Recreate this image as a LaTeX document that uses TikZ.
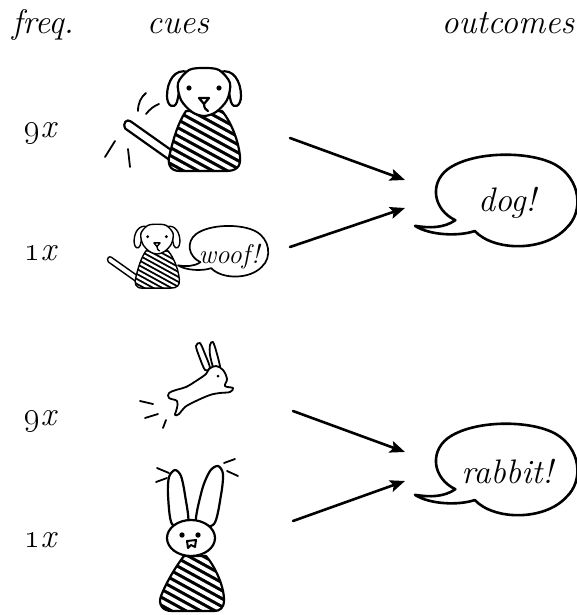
\RequirePackage{fix-cm}
\documentclass[tikz,border=0pt]{standalone}
\usetikzlibrary{arrows.meta}

\begin{document}
\begin{tikzpicture}[x=1pt, y=-1pt, line width=2.2pt, line cap=round, line join=round,
    every node/.style={font=\fontsize{34}{40}\selectfont\itshape, inner sep=0pt},
    title/.style={anchor=base},
    count/.style={anchor=base east},
    cue arrow/.style={line width=2.6pt, -{Stealth[length=15pt, width=12pt, inset=3pt]}},
    stripe/.style={white, line width=1.3\pgflinewidth},
    dog/.pic={
        % tail
        \draw[fill=white] (-25.4,60.3) -- (-73.4,26.3) .. controls (-77,23.5) and (-82,28) .. (-78.6,33.7) -- (-30.6,67.7) -- cycle;
        % striped body
        \path[save path=\dogbody] (-18,16) -- (18,16) .. controls (28,28) and (35,48) .. (36,62)
            .. controls (37,72) and (32,76) .. (22,76) -- (-24,76) .. controls (-35,76) and (-37,68) .. (-34,58)
            .. controls (-30,42) and (-26,28) .. (-18,16) -- cycle;
        \begin{scope}
            \path[use path=\dogbody, clip];
            \fill (-40,10) rectangle (40,80);
            \foreach \k in {-28,-20,...,68}
                \draw[stripe] (-42,\k) -- ++(84,46);
        \end{scope}
        \draw[use path=\dogbody];
        % ears and head
        \foreach \s in {1,-1}
            \draw[fill=white, xscale=\s] (16,-23) .. controls (29,-27) and (37,-14) .. (37,1)
                .. controls (37,11) and (30,15) .. (27,7) .. controls (25,0) and (25,-8) .. (22,-13) -- cycle;
        \draw[fill=white] plot[smooth cycle] coordinates {(-26,-12) (-15,-25) (0,-27) (15,-25) (26,-12)
            (23,5) (12,17) (0,21) (-12,17) (-23,5)};
        \foreach \s in {1,-1}
            \fill (15*\s,-7) circle[radius=2.6];
        \draw[fill=white] (-5,3) -- (5,3) -- (0,9) -- cycle;
        \draw (0,9) .. controls (0,13) and (2,15) .. (4,16);
    },
    bubble/.pic={
        \draw (-0.69,0.43) .. controls (-0.85,0.6) and (-1.05,0.6) .. (-1.25,0.55)
            .. controls (-1.05,0.75) and (-0.65,0.78) .. (-0.42,0.66)
            .. controls (-0.15,1.1) and (0.55,1.1) .. (0.85,0.6)
            .. controls (1.1,0.25) and (1.05,-0.45) .. (0.7,-0.75)
            .. controls (0.35,-1.05) and (-0.45,-1.05) .. (-0.8,-0.65)
            .. controls (-1.05,-0.35) and (-1.0,0.2) .. (-0.69,0.43) -- cycle;
    }]
    \useasboundingbox (0,0) rectangle (577,615);

    % column heads and frequencies
    \node[title] (freq) at (43,34) {freq.};
    \node[title] (cues) at (178,34) {cues};
    \node[title] (outcomes) at (508,34) {outcomes};
    \node[count] (n1) at (57,137) {\oldstylenums{9}x};
    \node[count] (n2) at (57,260) {\oldstylenums{1}x};
    \node[count] (n3) at (57,425) {\oldstylenums{9}x};
    \node[count] (n4) at (57,547) {\oldstylenums{1}x};

    % dogs
    \pic at (204,95) {dog};
    \draw[line width=1.8pt] (138,111) .. controls (138,103) and (141,97) .. (146,93)
        (146,114) .. controls (150,109) and (154,106) .. (159,104)
        (105,157) -- (115,141) (128,149) -- (130,167);
    \pic[scale=0.62, line width=1.4pt] at (157,241) {dog};
    \node[font=\fontsize{27}{32}\selectfont\itshape] (woof) at (229,257) {woof!};
    \pic[xscale=40, yscale=26, line width=1.7pt] at (228,251) {bubble};

    % jumping rabbit
    \begin{scope}[line width=1.8pt]
        \draw[fill=white] plot[smooth cycle] coordinates {(205,370) (199,356) (196,346) (200,343) (205,354) (210,368)};
        \draw[fill=white] plot[smooth cycle] coordinates {(214,369) (210,355) (210,345) (213,342) (217,354) (220,368)};
        \draw[fill=white] plot[smooth cycle, tension=0.6] coordinates {(206,374) (196,381) (186,387) (176,390)
            (169,393) (169,398) (177,401) (177,408) (175,415) (179,414) (185,407) (196,401) (210,395)
            (220,393) (230,392) (233,388) (225,386) (227,379) (223,370) (216,366) (209,369)};
        \fill (218,376) circle[radius=1.5];
        \draw (140,401) -- (153,404) (145,418) -- (158,414) (163,428) -- (166,420);
    \end{scope}

    % sitting rabbit
    \draw[fill=white] plot[smooth cycle] coordinates {(172,524) (168,495) (169,477) (175,470) (181,476) (185,495) (188,524)};
    \draw[fill=white] plot[smooth cycle] coordinates {(196,524) (202,490) (210,471) (218,466) (223,474) (221,495) (214,524)};
    \path[save path=\rabbitbody] (184,556) -- (206,556) .. controls (214,565) and (224,585) .. (224,600)
        .. controls (224,608) and (220,611) .. (214,611) -- (172,611) .. controls (162,611) and (158,604) .. (161,596)
        .. controls (166,583) and (176,566) .. (184,556) -- cycle;
    \begin{scope}
        \path[use path=\rabbitbody, clip];
        \fill (150,550) rectangle (230,615);
        \foreach \k in {515,523,...,607}
            \draw[stripe] (150,\k) -- ++(80,44);
    \end{scope}
    \draw[use path=\rabbitbody];
    \draw[fill=white] (191,538) ellipse [x radius=24, y radius=18];
    \foreach \s in {-1,1}
        \fill (190+8*\s,535) circle[radius=2.7];
    \draw[line width=2pt] (187,541) -- (196,540) -- (195,547) -- (191,545) -- (188,548) -- cycle;
    \draw[line width=1.8pt] (157,468) -- (169,473) (156,482) -- (167,478) (224,463) -- (235,459) (227,471) -- (238,476);

    % outcomes
    \node (dog) at (507,203) {dog!};
    \pic[xscale=72, yscale=47, line width=2.6pt] at (505,200) {bubble};
    \node (rabbit) at (507,472) {rabbit!};
    \pic[xscale=72, yscale=47, line width=2.6pt] at (505,469) {bubble};

    % arrows from cues to outcomes
    \coordinate (bigdog) at (290,138);
    \coordinate (smalldog) at (290,247);
    \coordinate (jumper) at (293,411);
    \coordinate (sitter) at (293,521);
    \coordinate (dog a) at (405,180);
    \coordinate (dog b) at (405,208);
    \coordinate (rabbit a) at (405,452);
    \coordinate (rabbit b) at (405,481);
    \foreach \a/\b in {bigdog/dog a, smalldog/dog b, jumper/rabbit a, sitter/rabbit b}
        \draw[cue arrow] (\a) -- (\b);
\end{tikzpicture}
\end{document}
